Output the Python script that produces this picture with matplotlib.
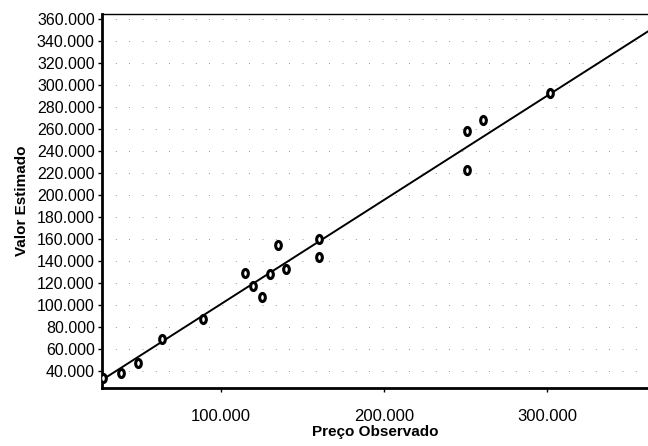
import matplotlib
matplotlib.use("Agg")
import matplotlib.pyplot as plt
import numpy as np
from matplotlib.markers import MarkerStyle
from matplotlib.transforms import Affine2D
from matplotlib.ticker import FuncFormatter

plt.rcParams['font.family'] = ['Liberation Sans', 'DejaVu Sans']

# observed price vs estimated value (thousands)
preco_obs = [28, 39, 49, 64, 89, 115, 120, 125, 130, 135, 140, 160, 160,
             251, 251, 261, 302]
valor_est = [34, 38, 47, 69, 87, 129, 117, 107, 128, 154, 133, 160, 144,
             258, 223, 268, 293]

# fitted line
slope = 0.946
intercept = 6.1

x_ticks = [100, 200, 300]
y_ticks = list(range(40, 361, 20))

fig = plt.figure(figsize=(6.48, 4.46), dpi=100)
ax = fig.add_axes([0.157, 0.130, 0.843, 0.839])

ax.set_xlim(27, 362)
ax.set_ylim(24.5, 364.5)

# faint dotted grid (print remnants)
for yv in y_ticks:
    ax.axhline(yv, color='0.45', lw=0.6, ls=(0, (1, 15)), zorder=0)

xl = np.array(ax.get_xlim())
ax.plot(xl, intercept + slope * xl, color='black', lw=1.4, zorder=2)

marker = MarkerStyle('o', transform=Affine2D().scale(0.7, 1.0))
ax.scatter(preco_obs, valor_est, marker=marker, s=34, facecolor='white',
           edgecolor='black', linewidth=2.2, zorder=3)

fmt = FuncFormatter(lambda v, p: f"{v * 1000:,.0f}".replace(',', '.'))
ax.xaxis.set_major_formatter(fmt)
ax.yaxis.set_major_formatter(fmt)
ax.set_xticks(x_ticks)
ax.set_yticks(y_ticks)
ax.tick_params(axis='x', length=3, width=1, pad=12, labelsize=12)
ax.tick_params(axis='y', length=3, width=1, pad=2, labelsize=11.5)

ax.spines['left'].set_linewidth(2)
ax.spines['bottom'].set_linewidth(2)
ax.spines['top'].set_linewidth(1)
ax.spines['right'].set_visible(False)

ax.set_xlabel('Preço Observado', fontsize=11, fontweight='bold', labelpad=1)
ax.set_ylabel('Valor Estimado', fontsize=11, fontweight='bold', labelpad=6)

fig.savefig('out.png', dpi=100)
